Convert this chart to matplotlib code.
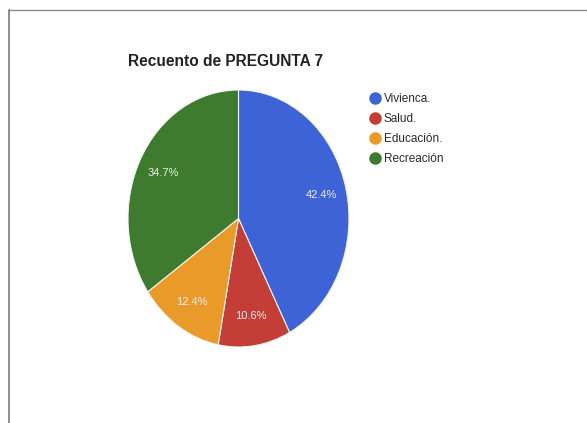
import matplotlib
matplotlib.use("Agg")
import matplotlib.pyplot as plt
from matplotlib.lines import Line2D

title = "Recuento de PREGUNTA 7"
categories = ["Vivienca.", "Salud.", "Educación.", "Recreación"]
values = [42.4, 10.6, 12.4, 34.7]
colors = ["#3E63D6", "#C23E36", "#EA9A28", "#3E7B2E"]

plt.rcParams['font.family'] = ['Liberation Sans', 'DejaVu Sans']

W, H = 587, 423
fig = plt.figure(figsize=(W / 100, H / 100), dpi=100)
fig.patch.set_facecolor("white")

# frame lines (top and left) like the scanned box
fig.add_artist(Line2D([9 / W, 1.0], [1 - 10 / H, 1 - 10 / H], color="#8a8a8a", lw=1.0))
fig.add_artist(Line2D([9 / W, 9 / W], [0.0, 1 - 10 / H], color="#7a7a7a", lw=1.2))

# pie axes (elliptical pie as in the reference)
ax = fig.add_axes([128 / W, (H - 347) / H, 221 / W, 257 / H])
wedges, texts, autotexts = ax.pie(
    values, colors=colors, startangle=90, counterclock=False,
    autopct="%1.1f%%", pctdistance=0.77,
    wedgeprops=dict(edgecolor="#f4f4f4", linewidth=0.8),
    textprops=dict(color="#eeeeee", fontsize=8),
)
ax.set_aspect("auto")
ax.set_xlim(-1, 1)
ax.set_ylim(-1, 1)
ax.axis("off")

fig.text(128 / W, 1 - 61 / H, title, fontsize=11.2, fontweight="bold",
         color="#222222", ha="left", va="center")

handles = [Line2D([0], [0], marker="o", linestyle="", markersize=8,
                  markerfacecolor=c, markeredgecolor=c) for c in colors]
fig.legend(handles, categories, loc="upper left",
           bbox_to_anchor=(366 / W, 1 - 88 / H), frameon=False,
           fontsize=8.5, handlelength=0.8, handletextpad=0.3,
           labelspacing=0.68, borderaxespad=0, labelcolor="#2a2a2a")

fig.savefig("out.png", dpi=100)
